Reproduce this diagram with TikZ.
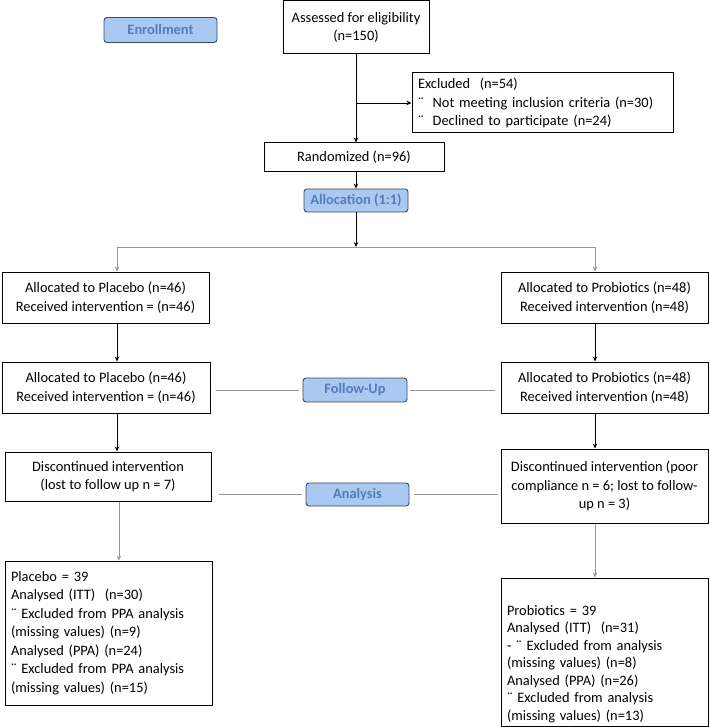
\documentclass[tikz,border=0pt]{standalone}
\usepackage{fontspec}
\setmainfont{Carlito}
\usepackage{tikz}
\usetikzlibrary{arrows.meta}

\definecolor{phasefill}{RGB}{169,200,242}
\definecolor{phaseline}{RGB}{62,72,92}
\definecolor{phasetext}{RGB}{84,125,184}
\definecolor{linkgray}{RGB}{150,150,150}

\tikzset{
    box/.style={draw, rectangle, line width=1pt, inner sep=0pt,
        font=\fontsize{14.4}{18.5}\selectfont, align=center},
    phase/.style={draw=phaseline, fill=phasefill, rectangle,
        rounded corners=3pt, line width=0.9pt, inner sep=0pt,
        text=phasetext, font=\fontsize{14.4}{15}\selectfont\bfseries},
    arr/.style={-{Stealth[length=5pt,width=4.5pt]}, line width=0.8pt},
    grayarr/.style={-{Stealth[length=5pt,width=4.5pt]}, draw=linkgray,
        line width=0.7pt},
    link/.style={draw=linkgray, line width=0.8pt}
}

\begin{document}
\begin{tikzpicture}[x=1pt,y=-1pt]
    \useasboundingbox (0,0) rectangle (709,727);

    % Phase labels
    \node [phase, minimum width=113, minimum height=25] (enroll) at (160.5,30) {Enrollment};
    \node [phase, minimum width=104, minimum height=23] (alloc) at (356,200.5) {Allocation (1:1)};
    \node [phase, minimum width=104, minimum height=24] (follow) at (355,390) {Follow-Up};
    \node [phase, minimum width=103, minimum height=23] (analysis) at (357.5,494.5) {Analysis};

    % Enrollment
    \node [box, minimum width=146, minimum height=53] (assessed) at (356,27.5)
        {Assessed for eligibility\\(n=150)};
    \node [box, minimum width=261, minimum height=60, text width=249, align=left] (excluded) at (542.5,103)
        {Excluded\ \ (n=54)\\
         ¨\hspace{9pt}Not meeting inclusion criteria (n=30)\\
         ¨\hspace{9pt}Declined to participate (n=24)};
    \node [box, minimum width=180, minimum height=29] (random) at (354,157.5) {Randomized (n=96)};

    % Allocation
    \node [box, minimum width=207, minimum height=51] (placeboA) at (105.5,297.5)
        {Allocated to Placebo (n=46)\\Received intervention = (n=46)};
    \node [box, minimum width=207, minimum height=51] (probioA) at (604.5,297.5)
        {Allocated to Probiotics (n=48)\\Received intervention (n=48)};

    % Follow-up
    \node [box, minimum width=208, minimum height=51] (placeboB) at (106,387.5)
        {Allocated to Placebo (n=46)\\Received intervention = (n=46)};
    \node [box, minimum width=207, minimum height=51] (probioB) at (604.5,387.5)
        {Allocated to Probiotics (n=48)\\Received intervention (n=48)};
    \node [box, minimum width=206, minimum height=49] (placeboC) at (108,476.5)
        {Discontinued intervention\\(lost to follow up n = 7)};
    \node [box, minimum width=207, minimum height=74] (probioC) at (604.5,486)
        {Discontinued intervention (poor\\compliance n = 6; lost to follow-\\up n = 3)};

    % Analysis
    \node [box, minimum width=207, minimum height=144, text width=195, align=left] (placeboD) at (108.5,633)
        {Placebo = 39\\
         Analysed (ITT)\ \ (n=30)\\
         ¨ Excluded from PPA analysis\\
         (missing values) (n=9)\\
         Analysed (PPA) (n=24)\\
         ¨ Excluded from PPA analysis\\
         (missing values) (n=15)};
    \node [box, minimum width=207, minimum height=148] (probioD) at (604.5,652) {};
    \node [font=\fontsize{14.4}{17.5}\selectfont, text width=195, align=left, inner sep=0pt] (probioDtxt) at (604.5,664)
        {Probiotics = 39\\
         Analysed (ITT)\ \ (n=31)\\
         - ¨ Excluded from analysis\\
         (missing values) (n=8)\\
         Analysed (PPA) (n=26)\\
         ¨ Excluded from analysis\\
         (missing values) (n=13)};

    % split points
    \coordinate (splitC) at (356,247);
    \coordinate (splitL) at (117,247);
    \coordinate (splitR) at (595,247);

    % Connectors
    \draw [arr] (assessed.south) -- (assessed.south |- random.north);
    \draw [arr] (assessed.south |- excluded.west) -- (excluded.west);
    \draw [arr] (alloc.north |- random.south) -- (alloc.north);
    \draw [arr] (alloc.south) -- (splitC);
    \draw [link] (splitL) -- (splitR);
    \draw [grayarr] (splitL) -- (splitL |- placeboA.north);
    \draw [grayarr] (splitR) -- (splitR |- probioA.north);
    \draw [arr] (placeboA.south -| splitL) -- (placeboB.north -| splitL);
    \draw [arr] (probioA.south -| splitR) -- (probioB.north -| splitR);
    \draw [arr] (placeboB.south -| splitL) -- (placeboC.north -| splitL);
    \draw [arr] (probioB.south -| splitR) -- (probioC.north -| splitR);
    \draw [grayarr] ([xshift=2pt]placeboC.south -| splitL) -- ([xshift=2pt]placeboD.north -| splitL);
    \draw [grayarr] (probioC.south -| splitR) -- (probioD.north -| splitR);

    % side links
    \draw [link, shorten <=5pt, shorten >=4pt] (follow.west -| placeboB.east) -- (follow.west);
    \draw [link, shorten <=3pt, shorten >=6pt] (follow.east) -- (follow.east -| probioB.west);
    \draw [link, shorten <=7pt, shorten >=4pt] (analysis.west -| placeboC.east) -- (analysis.west);
    \draw [link, shorten <=5pt, shorten >=3pt] (analysis.east) -- (analysis.east -| probioC.west);
\end{tikzpicture}
\end{document}
